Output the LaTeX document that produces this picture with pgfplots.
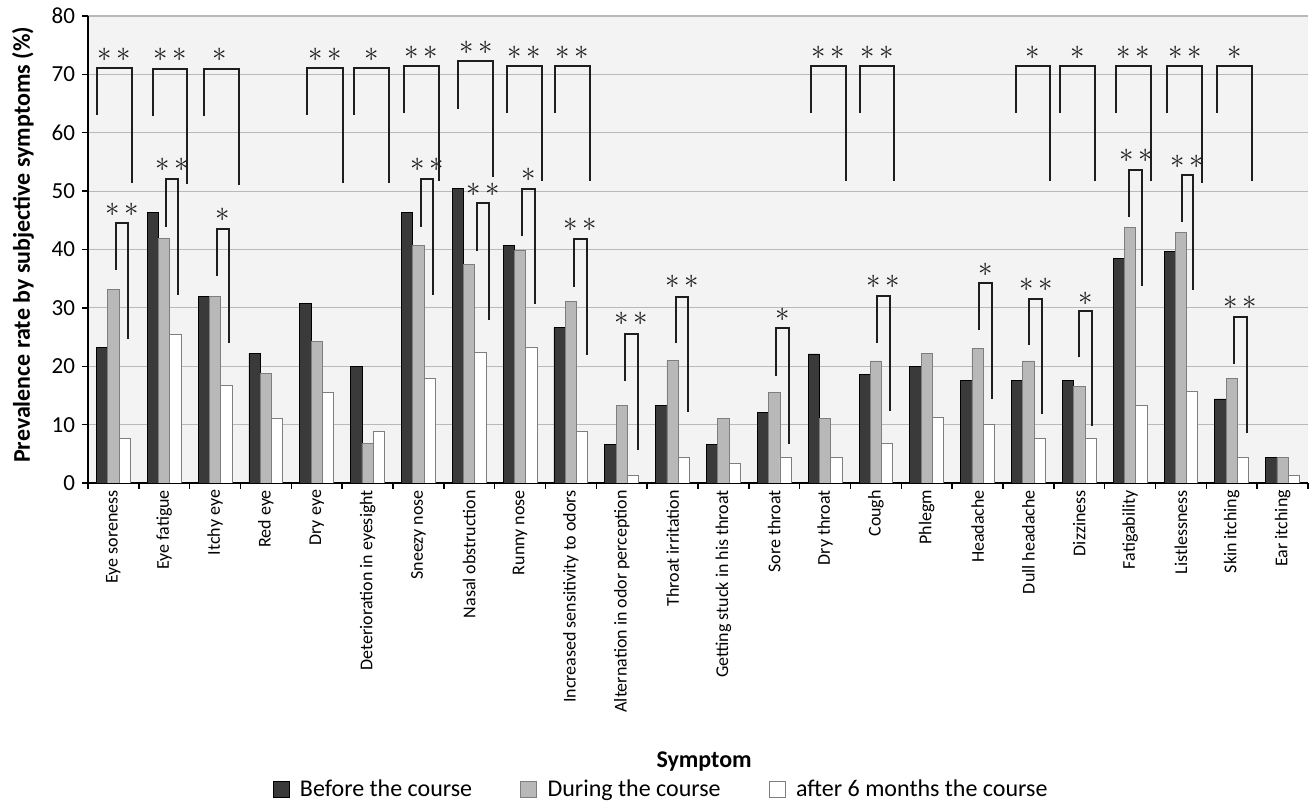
\documentclass[border=0pt]{standalone}
\usepackage{pgfplots}
\usepackage{pgfplotstable}
\pgfplotsset{compat=1.18}
\usepackage{fontspec}
\setmainfont{Carlito}
\definecolor{cdark}{HTML}{3A3A3A}
\definecolor{cgray}{HTML}{B8B8B8}
\definecolor{cgrayline}{HTML}{7E7E7E}
\definecolor{cbg}{HTML}{F3F3F3}
\definecolor{cbrk}{HTML}{1E1E1E}
\tikzset{
  brk/.style={cbrk, line width=1pt},
  startxt/.style={text=cbrk, inner sep=0pt, font=\fontsize{14.5}{14.5}\selectfont},
}

\pgfplotstableread{
x before during after
0  23.2 33.2 7.7
1  46.3 41.9 25.4
2  32.0 32.0 16.7
3  22.2 18.7 11.1
4  30.8 24.3 15.5
5  20.0 6.7  8.9
6  46.3 40.7 17.9
7  50.4 37.4 22.3
8  40.7 39.8 23.3
9  26.6 31.1 8.9
10 6.6  13.3 1.3
11 13.3 21.0 4.4
12 6.6  11.1 3.3
13 12.1 15.5 4.4
14 22.1 11.1 4.4
15 18.6 20.9 6.7
16 19.9 22.2 11.2
17 17.6 23.1 10.0
18 17.6 20.9 7.7
19 17.6 16.6 7.7
20 38.5 43.8 13.3
21 39.6 42.9 15.7
22 14.4 17.9 4.4
23 4.4  4.4  1.3
}\data

% bracket: xl xr top yl yr starx stary text
\newcommand{\brk}[8]{%
  \addplot[brk, forget plot] coordinates {(#1,#4) (#1,#3) (#2,#3) (#2,#5)};
  \node[startxt] at (axis cs:#6,#7) {#8};}
\newcommand{\one}{$\ast$}
\newcommand{\two}{$\ast$\hspace{2.2pt}$\ast$}

\begin{document}
\begin{tikzpicture}
\useasboundingbox (0,0) rectangle (655pt,403.5pt);
\begin{axis}[
  at={(44pt,162pt)}, anchor=south west,
  width=610pt, height=233.5pt, scale only axis,
  xmin=-0.5, xmax=23.5, ymin=0, ymax=80,
  axis x line*=bottom, axis y line*=left,
  axis line style={black, line width=0.8pt, -},
  axis background/.style={fill=cbg},
  /pgf/number format/assume math mode=true,
  ytick={0,10,...,80},
  ymajorgrids, grid style={gray!55, line width=0.6pt},
  tick align=outside,
  major tick length=3pt,
  tick style={black, line width=0.7pt},
  yticklabel style={font=\fontsize{11.5}{12}\selectfont},
  xtick={-0.5,0.5,1.5,2.5,3.5,4.5,5.5,6.5,7.5,8.5,9.5,10.5,11.5,12.5,13.5,14.5,15.5,16.5,17.5,18.5,19.5,20.5,21.5,22.5,23.5},
  xticklabels={},
  extra x ticks={0,1,2,3,4,5,6,7,8,9,10,11,12,13,14,15,16,17,18,19,20,21,22,23},
  extra x tick labels={Eye soreness,Eye fatigue,Itchy eye,Red eye,Dry eye,Deterioration in eyesight,Sneezy nose,Nasal obstruction,Runny nose,Increased sensitivity to odors,Alternation in odor perception,Throat irritation,Getting stuck in his throat,Sore throat,Dry throat,Cough,Phlegm,Headache,Dull headache,Dizziness,Fatigability,Listlessness,Skin itching,Ear itching},
  extra x tick style={major tick length=0pt, tick label style={rotate=90, anchor=east, font=\fontsize{9}{10}\selectfont}},
  ylabel={\textbf{Prevalence rate by subjective symptoms (\%)}},
  ylabel style={at={(axis description cs:-0.0533,0.51)}, anchor=center, rotate=0, font=\fontsize{12}{14}\selectfont},
  xlabel={\textbf{Symptom}},
  xlabel style={at={(axis description cs:0.505,-0.597)}, anchor=center, font=\fontsize{12}{14}\selectfont},
  legend style={at={(axis description cs:0.4705,-0.657)}, anchor=center, draw=none, fill=none,
    legend columns=-1, font=\fontsize{12}{14}\selectfont,
    /tikz/every even column/.append style={column sep=22pt}},
  legend image code/.code={\path[draw=none, fill=none] (0pt,0pt) -- (11.5pt,0pt); \draw[#1] (0pt,-4pt) rectangle (8pt,4pt);},
]
\addplot[ybar, bar width=0.222, bar shift=-0.222, fill=cdark, draw=black, line width=0.4pt] table[x=x, y=before] {\data};
\addplot[ybar, bar width=0.222, bar shift=0, fill=cgray, draw=cgrayline, line width=0.4pt] table[x=x, y=during] {\data};
\addplot[ybar, bar width=0.222, bar shift=0.222, fill=white, draw=cgrayline, line width=0.4pt] table[x=x, y=after] {\data};
\legend{Before the course, During the course, after 6 months the course}

% large brackets (before vs after)
\brk{-0.316}{0.359}{71.1}{63.1}{51.4}{0.02}{73.4}{\two}
\brk{0.772}{1.454}{71.0}{62.8}{51.3}{1.113}{73.3}{\two}
\brk{1.782}{2.477}{71.0}{62.8}{51.1}{2.10}{73.3}{\one}
\brk{3.815}{4.510}{71.1}{63.1}{51.4}{4.163}{73.4}{\two}
\brk{4.733}{5.428}{71.1}{63.1}{51.4}{5.08}{73.4}{\one}
\brk{5.717}{6.405}{71.4}{63.4}{51.7}{6.061}{73.7}{\two}
\brk{6.786}{7.474}{72.3}{64.1}{52.5}{7.13}{74.6}{\two}
\brk{7.737}{8.425}{71.4}{63.4}{51.7}{8.081}{73.7}{\two}
\brk{8.687}{9.376}{71.4}{63.4}{51.7}{9.03}{73.7}{\two}
\brk{13.717}{14.406}{71.4}{63.4}{51.7}{14.06}{73.7}{\two}
\brk{14.688}{15.363}{71.4}{63.4}{51.7}{15.03}{73.7}{\two}
\brk{17.750}{18.426}{71.4}{63.4}{51.7}{18.09}{73.7}{\one}
\brk{18.623}{19.311}{71.4}{63.4}{51.7}{18.97}{73.7}{\one}
\brk{19.724}{20.406}{71.4}{63.4}{51.7}{20.065}{73.7}{\two}
\brk{20.734}{21.423}{71.4}{63.4}{51.4}{21.08}{73.7}{\two}
\brk{21.718}{22.393}{71.4}{63.4}{51.7}{22.055}{73.7}{\one}

% small brackets (during vs after)
\brk{0.044}{0.293}{44.5}{36.5}{24.7}{0.168}{46.8}{\two}
\brk{1.035}{1.264}{52.1}{43.9}{32.2}{1.15}{54.5}{\two}
\brk{2.031}{2.274}{43.5}{35.5}{23.9}{2.15}{45.9}{\one}
\brk{6.045}{6.294}{52.1}{43.9}{32.2}{6.17}{54.5}{\two}
\brk{7.146}{7.396}{47.9}{39.8}{28.0}{7.27}{50.2}{\two}
\brk{8.045}{8.294}{50.4}{42.3}{30.6}{8.17}{52.8}{\one}
\brk{9.061}{9.311}{41.8}{33.6}{21.9}{9.186}{44.2}{\two}
\brk{10.065}{10.314}{25.6}{17.5}{5.7}{10.19}{28.2}{\two}
\brk{11.061}{11.311}{31.9}{23.9}{12.1}{11.186}{34.5}{\two}
\brk{13.035}{13.291}{26.5}{18.4}{6.7}{13.163}{28.8}{\one}
\brk{15.029}{15.278}{32.1}{24.0}{12.3}{15.15}{34.5}{\two}
\brk{17.029}{17.291}{34.2}{26.2}{14.4}{17.16}{36.5}{\one}
\brk{18.019}{18.275}{31.6}{23.6}{11.9}{18.147}{33.9}{\two}
\brk{19.003}{19.246}{29.5}{21.5}{9.7}{19.125}{31.6}{\one}
\brk{19.987}{20.242}{53.6}{45.5}{33.8}{20.115}{56.0}{\two}
\brk{21.016}{21.246}{52.8}{44.7}{33.0}{21.13}{55.1}{\two}
\brk{22.046}{22.295}{28.5}{20.3}{8.5}{22.17}{30.8}{\two}
\end{axis}
\end{tikzpicture}
\end{document}
